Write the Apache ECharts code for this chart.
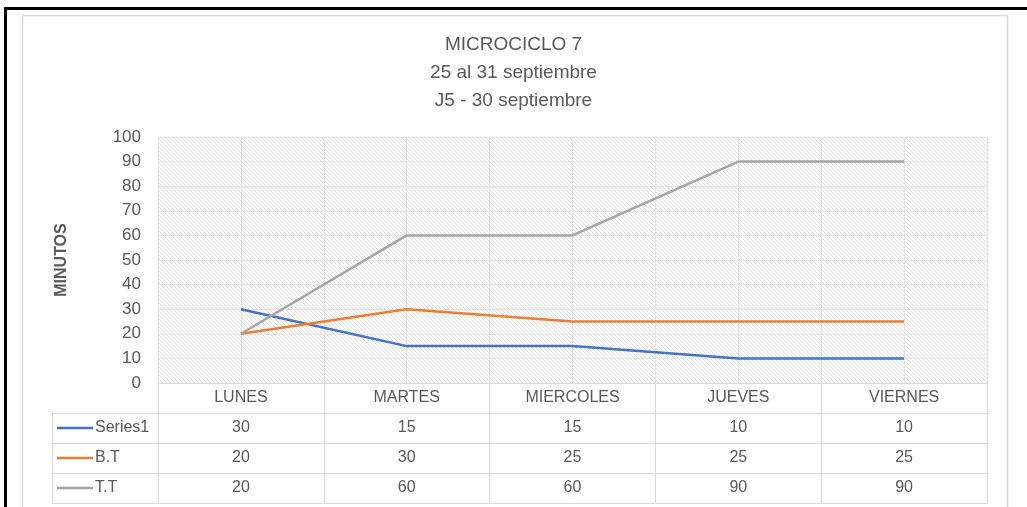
<!DOCTYPE html>
<html>
<head>
<meta charset="utf-8">
<script src="https://cdn.jsdelivr.net/npm/echarts@6/dist/echarts.min.js"></script>
<style>
  html, body { margin: 0; padding: 0; background: #fff; }
  #main { width: 1027px; height: 507px; }
</style>
</head>
<body>
<div id="main"></div>
<script>
var dias = ['LUNES', 'MARTES', 'MIERCOLES', 'JUEVES', 'VIERNES'];
var nombres = ['Series1', 'B.T', 'T.T'];
var series1 = [30, 15, 15, 10, 10];
var bt = [20, 30, 25, 25, 25];
var tt = [20, 60, 60, 90, 90];
var yTicks = [0, 100, 10];   // min, max, intervalo
var titulo = 'MICROCICLO 7\n25 al 31 septiembre\nJ5 - 30 septiembre';

var colores = ['#4472C4', '#ED7D31', '#A5A5A5'];
var gris = '#595959';
var borde = '#d9d9d9';
var fuente = '"Liberation Sans", Arial, sans-serif';

// patron rayado del area de trazado
function rayado() {
    var c = document.createElement('canvas');
    c.width = 4; c.height = 4;
    var ctx = c.getContext('2d');
    ctx.fillStyle = '#ffffff';
    ctx.fillRect(0, 0, 4, 4);
    ctx.fillStyle = '#e2e2e2';
    for (var i = 0; i < 4; i++) ctx.fillRect(i, i, 1, 1);
    return c;
}

var plotL = 158, plotR = 987, plotT = 137, plotB = 383, fila = 30;

// ejes extra que hacen de filas de la tabla
var filas = [series1, bt, tt];
var ejesTabla = filas.map(function (vals, k) {
    return {
        type: 'category', gridIndex: 0, position: 'bottom',
        offset: fila * (k + 1),
        data: vals.map(String),
        axisLine: { show: true, lineStyle: { color: borde, width: 1 } },
        axisTick: { show: true, length: fila, lineStyle: { color: borde } },
        axisLabel: { color: gris, fontSize: 16, fontFamily: fuente, margin: 7 },
        splitLine: { show: false }
    };
});
ejesTabla.push({
    type: 'category', gridIndex: 0, position: 'bottom',
    offset: fila * 4, data: dias,
    axisLine: { show: true, lineStyle: { color: borde, width: 1 } },
    axisTick: { show: false }, axisLabel: { show: false }
});

var xAxes = [{
    type: 'category', data: dias, boundaryGap: true,
    axisLine: { show: true, lineStyle: { color: borde, width: 1 } },
    axisTick: { show: true, length: fila, lineStyle: { color: borde } },
    axisLabel: { color: gris, fontSize: 16, fontFamily: fuente, margin: 7 },
    splitLine: { show: false }
}, {
    // lineas verticales cada media categoria
    type: 'value', position: 'top', min: 0, max: dias.length * 2, interval: 1,
    axisLine: { show: false }, axisTick: { show: false }, axisLabel: { show: false },
    splitLine: { show: true, lineStyle: { color: '#e4e4e4', width: 1 } }
}].concat(ejesTabla);

var chart = echarts.init(document.getElementById('main'));
var option = {
    backgroundColor: '#fff',
    animation: false,
    title: {
        text: titulo, left: 'center', top: 26,
        textStyle: { color: gris, fontSize: 19, fontWeight: 'normal', fontFamily: fuente, lineHeight: 28 }
    },
    grid: {
        left: plotL, right: 1027 - plotR, top: plotT, bottom: 507 - plotB,
        show: true, borderWidth: 0,
        backgroundColor: { image: rayado(), repeat: 'repeat' }
    },
    xAxis: xAxes,
    yAxis: {
        type: 'value', min: yTicks[0], max: yTicks[1], interval: yTicks[2],
        name: 'MINUTOS', nameLocation: 'middle', nameGap: 88, nameRotate: 90,
        nameTextStyle: { color: gris, fontSize: 16, fontWeight: 'bold', fontFamily: fuente },
        axisLine: { show: false }, axisTick: { show: false },
        axisLabel: { color: gris, fontSize: 17, fontFamily: fuente, margin: 17 },
        splitLine: { lineStyle: { color: '#e4e4e4', width: 1 } }
    },
    series: [series1, bt, tt].map(function (d, i) {
        return {
            name: nombres[i], type: 'line', data: d, xAxisIndex: 0,
            showSymbol: false, symbol: 'none',
            lineStyle: { color: colores[i], width: 2.5 },
            itemStyle: { color: colores[i] }
        };
    })
};
chart.setOption(option);

// marco, columna de leyenda y bordes de la tabla
var g = [];
function linea(x1, y1, x2, y2, color, w) {
    g.push({ type: 'line', shape: { x1: x1, y1: y1, x2: x2, y2: y2 }, silent: true,
        style: { stroke: color, lineWidth: w } });
}
linea(22.5, 15.5, 1007.5, 15.5, borde, 1.5);
linea(22.5, 15.5, 22.5, 507, borde, 1.5);
linea(1007.5, 15.5, 1007.5, 507, borde, 1.5);
linea(4, 8.5, 1027, 8.5, '#000', 3);
linea(5.5, 7, 5.5, 507, '#000', 3);
var tablaL = 52.5;
for (var k = 1; k <= 4; k++) {
    linea(tablaL, plotB + fila * k + 0.5, plotL, plotB + fila * k + 0.5, borde, 1);
}
linea(tablaL, plotB + fila, tablaL, plotB + fila * 4, borde, 1);
linea(plotL + 0.5, plotB, plotL + 0.5, plotB + fila * 4, borde, 1);
// claves de leyenda dentro de la tabla
nombres.forEach(function (n, i) {
    var yc = plotB + fila * (i + 1) + fila / 2;
    linea(57, yc, 93, yc, colores[i], 2.5);
    g.push({ type: 'text', silent: true, x: 95, y: yc,
        style: { text: n, fill: gris, font: '16px ' + fuente, verticalAlign: 'middle' } });
});
chart.setOption({ graphic: g });
</script>
</body>
</html>
